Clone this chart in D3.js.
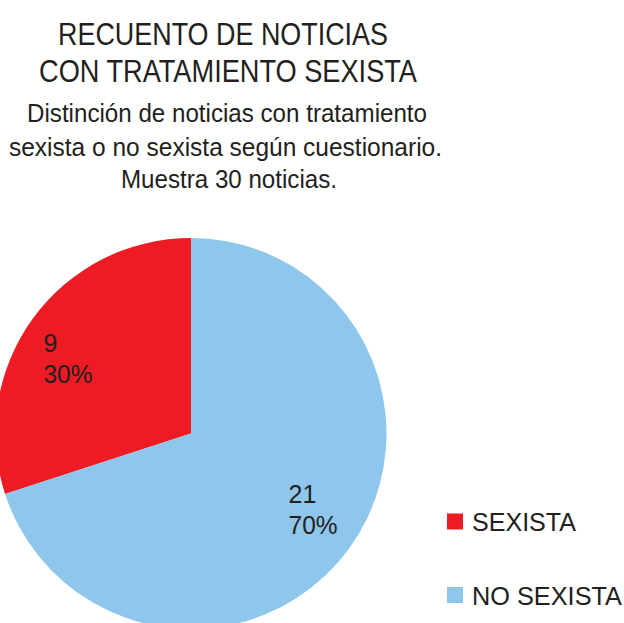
<!DOCTYPE html>
<html>
<head>
<meta charset="utf-8">
<script src="https://cdn.jsdelivr.net/npm/d3@7"></script>
<style>
  html, body { margin: 0; padding: 0; background: #fff; }
  svg { display: block; font-family: "Liberation Sans", Arial, sans-serif; }
</style>
</head>
<body>
<div id="chart"></div>
<script>
// datos del grafico
var categories = ['SEXISTA', 'NO SEXISTA'];
var values = [9, 21];
var colors = ['#ED1C24', '#8EC6EC'];

var titleLines = ['RECUENTO DE NOTICIAS', 'CON TRATAMIENTO SEXISTA'];
var subtitleLines = [
    'Distinción de noticias con tratamiento',
    'sexista o no sexista según cuestionario.',
    'Muestra 30 noticias.'
];

var WIDTH = 624, HEIGHT = 623;
var TEXT = '#231F20';

var svg = d3.select('#chart').append('svg')
    .attr('width', WIDTH)
    .attr('height', HEIGHT);

svg.append('rect').attr('width', WIDTH).attr('height', HEIGHT).attr('fill', '#fff');

// titulo (ancho ajustado, la fuente original es mas estrecha)
var titleSpec = [
    {x: 223, y: 45, w: 330},
    {x: 228, y: 82, w: 378}
];
svg.append('g').selectAll('text')
    .data(titleLines)
    .enter()
    .append('text')
    .attr('x', (d, i) => titleSpec[i].x)
    .attr('y', (d, i) => titleSpec[i].y)
    .attr('text-anchor', 'middle')
    .attr('font-size', 32)
    .attr('fill', TEXT)
    .attr('textLength', (d, i) => titleSpec[i].w)
    .attr('lengthAdjust', 'spacingAndGlyphs')
    .text(d => d);

var subSpec = [
    {x: 227, y: 122, w: 400},
    {x: 225.5, y: 155.5, w: 433},
    {x: 229, y: 188, w: 216}
];
svg.append('g').selectAll('text')
    .data(subtitleLines)
    .enter()
    .append('text')
    .attr('x', (d, i) => subSpec[i].x)
    .attr('y', (d, i) => subSpec[i].y)
    .attr('text-anchor', 'middle')
    .attr('font-size', 26.5)
    .attr('fill', TEXT)
    .attr('textLength', (d, i) => subSpec[i].w)
    .attr('lengthAdjust', 'spacingAndGlyphs')
    .text(d => d);

// pastel
var CX = 191, CY = 433.5, R = 195.5;
var total = d3.sum(values);

var rows = categories.map((c, i) => ({name: c, value: values[i], color: colors[i]}));

// Excel empieza por NO SEXISTA en las 12 en punto
var pie = d3.pie()
    .sort(null)
    .value(d => d.value)
    .startAngle(-2 * Math.PI * values[0] / total)
    .endAngle(2 * Math.PI - 2 * Math.PI * values[0] / total);

var arc = d3.arc().innerRadius(0).outerRadius(R);

var gPie = svg.append('g').attr('transform', 'translate(' + CX + ',' + CY + ')');

var arcs = pie(rows);

gPie.selectAll('path')
    .data(arcs)
    .enter()
    .append('path')
    .attr('d', arc)
    .attr('fill', d => d.data.color);

// etiquetas
var LABEL_R = 144, LABEL_SHIFT = -0.075;
var labels = gPie.selectAll('text.v-label')
    .data(arcs)
    .enter()
    .append('text')
    .attr('class', 'v-label')
    .attr('font-size', 25)
    .attr('fill', TEXT)
    .attr('transform', function (d) {
        var p = d3.pointRadial((d.startAngle + d.endAngle) / 2 + LABEL_SHIFT, LABEL_R);
        return 'translate(' + (p[0] - 25) + ',' + p[1] + ')';
    });
labels.append('tspan')
    .attr('x', 0).attr('y', -6)
    .text(d => d.data.value);
labels.append('tspan')
    .attr('x', 0).attr('y', 25)
    .attr('textLength', 49)
    .attr('lengthAdjust', 'spacingAndGlyphs')
    .text(d => d3.format('.0%')(d.data.value / total));

// leyenda
var legend = svg.append('g').attr('transform', 'translate(447,0)');
var legendY = d3.scalePoint().domain(categories).range([521.5, 595]);
var legendW = {'SEXISTA': 104, 'NO SEXISTA': 150};

var items = legend.selectAll('g')
    .data(rows)
    .enter()
    .append('g')
    .attr('transform', d => 'translate(0,' + legendY(d.name) + ')');
items.append('rect')
    .attr('x', 0).attr('y', -8)
    .attr('width', 16).attr('height', 16)
    .attr('fill', d => d.color);
items.append('text')
    .attr('x', 25).attr('y', 9.5)
    .attr('font-size', 25.5)
    .attr('fill', TEXT)
    .attr('textLength', d => legendW[d.name])
    .attr('lengthAdjust', 'spacingAndGlyphs')
    .text(d => d.name);
</script>
</body>
</html>
